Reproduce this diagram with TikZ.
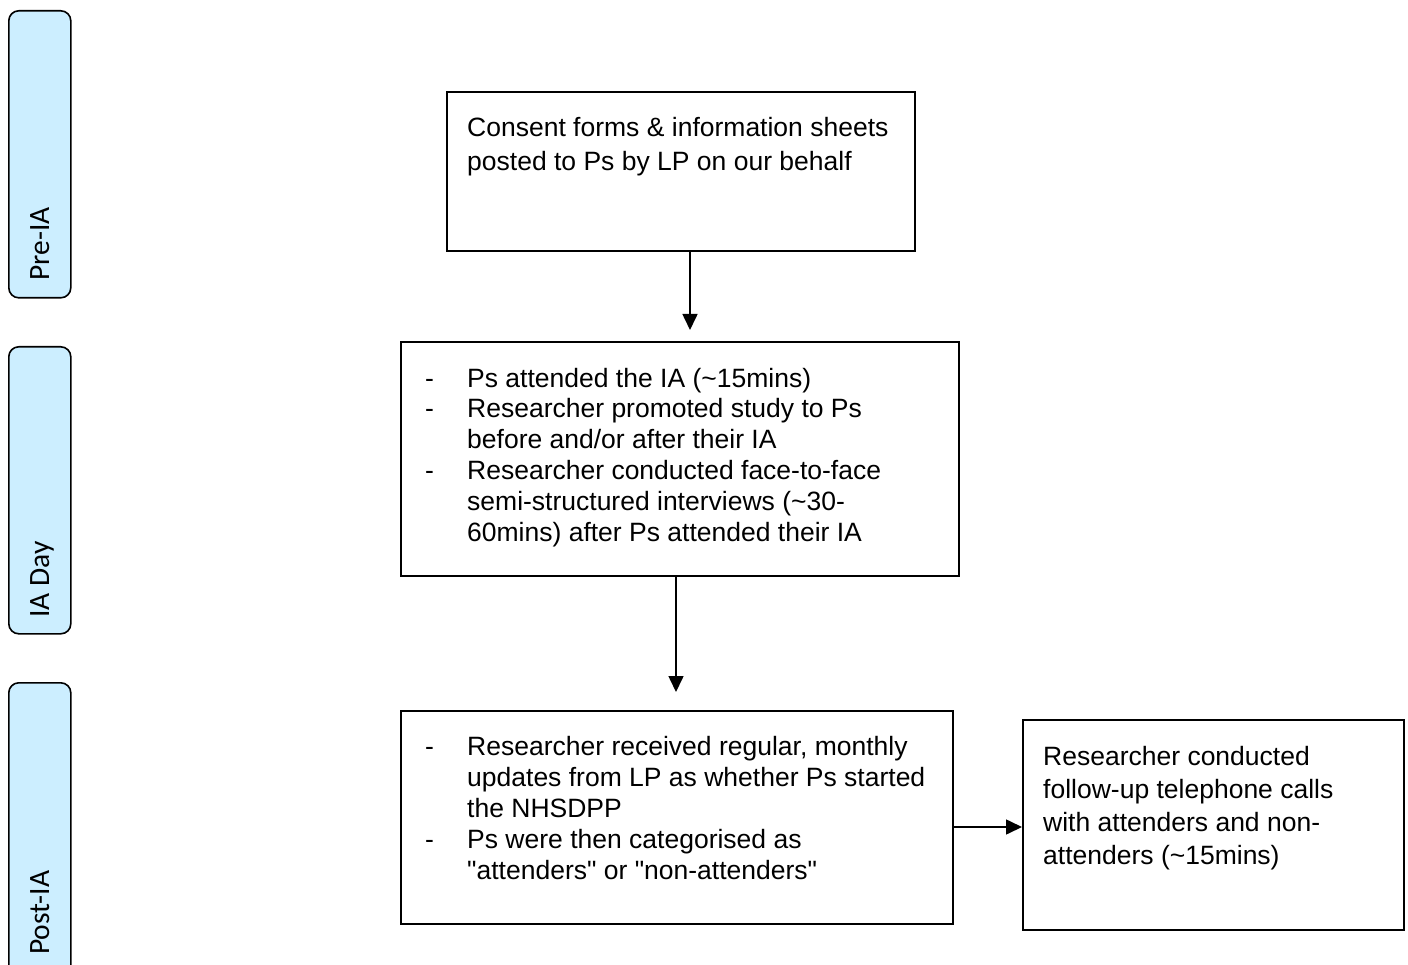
\documentclass[tikz,border=0pt]{standalone}
\usepackage{fontspec}
\setmainfont{Liberation Sans}
\newfontfamily\calfont{Carlito}
\usetikzlibrary{arrows.meta}
\definecolor{phasefill}{HTML}{CCEEFF}
\newcommand{\dashitem}{\makebox[42pt][l]{-}}
\newcommand{\indentitem}{\hspace*{42pt}}
\begin{document}
\begin{tikzpicture}[x=1pt,y=-1pt,
  box/.style={draw=black,line width=1.6pt,fill=white,anchor=north west,inner sep=0pt},
  phase/.style={draw=black,line width=1.6pt,fill=phasefill,rounded corners=10pt,anchor=north west,inner sep=0pt,minimum width=62pt},
  phasetext/.style={font=\calfont\fontsize{29.5}{34}\selectfont,rotate=90,anchor=base west,inner sep=0pt},
  boxtext/.style={font=\fontsize{26.5}{31}\selectfont,align=left,anchor=base west,inner sep=0pt},
  arr/.style={line width=1.6pt,-{Triangle[length=16pt,width=15pt]}}]
\useasboundingbox (0,0) rectangle (1408,965);
% phase boxes
\node[phase,minimum height=287pt] (pre) at (8,10) {};
\node[phase,minimum height=287pt] (day) at (8,346) {};
\node[phase,minimum height=300pt] (post) at (8,682) {};
\node[phasetext] (pret) at (49,281) {Pre-IA};
\node[phasetext] (dayt) at (49,618) {IA Day};
\node[phasetext] (postt) at (49,955) {Post-IA};
% boxes
\node[box,minimum width=468pt,minimum height=159pt] (b1) at (446,91) {};
\node[box,minimum width=558pt,minimum height=234pt] (b2) at (400,341) {};
\node[box,minimum width=552pt,minimum height=213pt] (b3) at (400,710) {};
\node[box,minimum width=381pt,minimum height=210pt] (b4) at (1022,719) {};
% texts (anchor = baseline of the last line)
\node[boxtext,font=\fontsize{26.5}{34}\selectfont] (t1) at (467,171) {Consent forms \& information sheets\\posted to Ps by LP on our behalf};
\node[boxtext,font=\fontsize{26.5}{30.8}\selectfont] (t2) at (425,541) {\dashitem Ps attended the IA (\textasciitilde 15mins)\\
\dashitem Researcher promoted study to Ps\\
\indentitem before and/or after their IA\\
\dashitem Researcher conducted face-to-face\\
\indentitem semi-structured interviews (\textasciitilde 30-\\
\indentitem 60mins) after Ps attended their IA};
\node[boxtext,font=\fontsize{26.5}{30.8}\selectfont] (t3) at (425,879) {\dashitem Researcher received regular, monthly\\
\indentitem updates from LP as whether Ps started\\
\indentitem the NHSDPP\\
\dashitem Ps were then categorised as\\
\indentitem \textquotedbl attenders\textquotedbl{} or \textquotedbl non-attenders\textquotedbl};
\node[boxtext,font=\fontsize{26.5}{33}\selectfont] (t4) at (1043,864) {Researcher conducted\\follow-up telephone calls\\with attenders and non-\\attenders (\textasciitilde 15mins)};
% connectors
\coordinate (a1) at (690,330);
\coordinate (a2) at (676,692);
\coordinate (a3) at (1022,827);
\draw[arr] (b1.south -| a1) -- (a1);
\draw[arr] (b2.south -| a2) -- (a2);
\draw[arr] (b3.east |- a3) -- (b4.west |- a3);
\end{tikzpicture}
\end{document}
